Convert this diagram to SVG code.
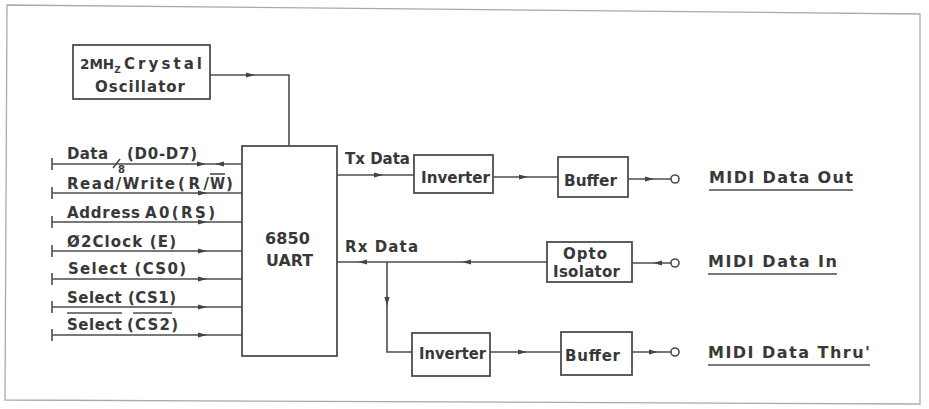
<svg xmlns="http://www.w3.org/2000/svg" xmlns:xlink="http://www.w3.org/1999/xlink" width="929" height="409" viewBox="0 0 929 409">
<style>
.ln{stroke:#4d4d4d;stroke-width:1.6;fill:none}
.bx{stroke:#4d4d4d;stroke-width:1.8;fill:#fff}
.t{font-family:"DejaVu Sans","Liberation Sans",Arial,sans-serif;font-weight:bold;fill:#383838;font-size:15px}
.tb{font-family:"DejaVu Sans","Liberation Sans",Arial,sans-serif;font-weight:bold;fill:#383838;font-size:16px}
.ah{fill:#444}
</style>
<defs>
<path id="ar" d="M-9,-2.6 L0,0 L-9,2.6 z"/>
</defs>
<rect width="929" height="409" fill="#fff"/>
<polygon points="7,5 920,14 920,404 5,400" fill="none" stroke="#aaa" stroke-width="1.3"/>

<g id="connectors">
  <polyline class="ln" points="210,75 289,75 289,146"/>
  <use href="#ar" class="ah" transform="translate(255,75)"/>
  <g class="ln">
    <line x1="52" y1="164" x2="242" y2="164"/><line x1="52" y1="158" x2="52" y2="170"/>
    <line x1="52" y1="193" x2="242" y2="193"/><line x1="52" y1="187" x2="52" y2="199"/>
    <line x1="52" y1="222" x2="242" y2="222"/><line x1="52" y1="216" x2="52" y2="228"/>
    <line x1="52" y1="251" x2="242" y2="251"/><line x1="52" y1="245" x2="52" y2="257"/>
    <line x1="52" y1="279" x2="242" y2="279"/><line x1="52" y1="273" x2="52" y2="285"/>
    <line x1="52" y1="307" x2="242" y2="307"/><line x1="52" y1="301" x2="52" y2="313"/>
    <line x1="52" y1="335" x2="242" y2="335"/><line x1="52" y1="329" x2="52" y2="341"/>
    <line x1="113" y1="168" x2="120" y2="159"/>
  </g>
  <use href="#ar" class="ah" transform="translate(206,164)"/>
  <use href="#ar" class="ah" transform="translate(215,164) rotate(180)"/>
  <use href="#ar" class="ah" transform="translate(207,193)"/>
  <use href="#ar" class="ah" transform="translate(207,222)"/>
  <use href="#ar" class="ah" transform="translate(207,251)"/>
  <use href="#ar" class="ah" transform="translate(207,279)"/>
  <use href="#ar" class="ah" transform="translate(207,307)"/>
  <use href="#ar" class="ah" transform="translate(207,335)"/>
  <line class="ln" x1="337" y1="175" x2="414" y2="175"/>
  <use href="#ar" class="ah" transform="translate(383,175)"/>
  <line class="ln" x1="493" y1="177" x2="558" y2="177"/>
  <use href="#ar" class="ah" transform="translate(528,177)"/>
  <line class="ln" x1="628" y1="179" x2="671" y2="179"/>
  <use href="#ar" class="ah" transform="translate(654,179)"/>
  <line class="ln" x1="337" y1="262" x2="547" y2="262"/>
  <use href="#ar" class="ah" transform="translate(358,262) rotate(180)"/>
  <use href="#ar" class="ah" transform="translate(462,262) rotate(180)"/>
  <line class="ln" x1="632" y1="263" x2="671" y2="263"/>
  <use href="#ar" class="ah" transform="translate(653,263) rotate(180)"/>
  <polyline class="ln" points="387,262 387,352 412,352"/>
  <use href="#ar" class="ah" transform="translate(387,306) rotate(90)"/>
  <line class="ln" x1="490" y1="352" x2="561" y2="352"/>
  <use href="#ar" class="ah" transform="translate(527,352)"/>
  <line class="ln" x1="632" y1="352" x2="671" y2="352"/>
  <use href="#ar" class="ah" transform="translate(658,352)"/>
</g>

<g id="osc">
  <rect class="bx" x="73" y="45" width="137" height="54"/>
  <text class="t" x="80" y="69" style="font-size:13.5px">2MH<tspan dy="4" style="font-size:9px">Z</tspan></text>
  <text class="t" x="124" y="69" textLength="78" lengthAdjust="spacing">Crystal</text>
  <text class="t" x="95" y="92" textLength="90" lengthAdjust="spacing">Oscillator</text>
</g>

<g id="uart">
  <rect class="bx" x="242" y="146" width="95" height="210"/>
  <text class="tb" x="265" y="244" textLength="45" lengthAdjust="spacing">6850</text>
  <text class="tb" x="266" y="266" textLength="47" lengthAdjust="spacingAndGlyphs">UART</text>
</g>

<g id="signals">
  <text class="t" x="67" y="159" textLength="41" lengthAdjust="spacing">Data</text>
  <text class="t" x="127" y="159" textLength="70" lengthAdjust="spacing">(D0-D7)</text>
  <text class="t" x="118" y="173" style="font-size:10px">8</text>
  <text class="t" x="67" y="189" textLength="108" lengthAdjust="spacing">Read/Write</text>
  <text class="t" x="178" y="189" textLength="31" lengthAdjust="spacing">(R/</text>
  <text class="t" x="210" y="189" textLength="15" lengthAdjust="spacingAndGlyphs">W</text>
  <line class="ln" x1="210" y1="174" x2="225" y2="174"/>
  <text class="t" x="226" y="189">)</text>
  <text class="t" x="67" y="218" textLength="73" lengthAdjust="spacing">Address</text>
  <text class="t" x="145" y="218" textLength="70" lengthAdjust="spacing">A0(RS)</text>
  <text class="t" x="67" y="247" textLength="109" lengthAdjust="spacing">Ø2Clock (E)</text>
  <text class="t" x="68" y="274" textLength="118" lengthAdjust="spacing">Select  (CS0)</text>
  <text class="t" x="67" y="303" textLength="109" lengthAdjust="spacing">Select (CS1)</text>
  <text class="t" x="67" y="330" textLength="55" lengthAdjust="spacing">Select</text>
  <text class="t" x="127" y="330" textLength="51" lengthAdjust="spacing">(CS2)</text>
  <line class="ln" x1="67" y1="313" x2="122" y2="313"/>
  <line class="ln" x1="133" y1="313" x2="172" y2="313"/>
</g>

<g id="txlabel"><text class="t" x="345" y="164" textLength="65" lengthAdjust="spacingAndGlyphs">Tx Data</text></g>
<g id="rxlabel"><text class="t" x="345" y="252" textLength="73" lengthAdjust="spacing">Rx Data</text></g>

<g id="inv1">
  <rect class="bx" x="414" y="155" width="79" height="38"/>
  <text class="t" x="421" y="183" textLength="69" lengthAdjust="spacingAndGlyphs">Inverter</text>
</g>
<g id="buf1">
  <rect class="bx" x="558" y="157" width="70" height="40"/>
  <text class="t" x="564" y="186" textLength="53" lengthAdjust="spacingAndGlyphs">Buffer</text>
</g>
<g id="opto">
  <rect class="bx" x="547" y="242" width="85" height="40"/>
  <text class="t" x="563" y="259" textLength="44" lengthAdjust="spacing">Opto</text>
  <text class="t" x="553" y="277" textLength="67" lengthAdjust="spacing">Isolator</text>
</g>
<g id="inv2">
  <rect class="bx" x="412" y="333" width="78" height="43"/>
  <text class="t" x="419" y="359" textLength="67" lengthAdjust="spacingAndGlyphs">Inverter</text>
</g>
<g id="buf2">
  <rect class="bx" x="561" y="332" width="71" height="43"/>
  <text class="t" x="565" y="361" textLength="55" lengthAdjust="spacing">Buffer</text>
</g>

<g id="out">
  <circle class="ln" cx="675" cy="179" r="4"/>
  <text class="tb" x="709" y="183" textLength="144" lengthAdjust="spacing">MIDI Data Out</text>
  <line class="ln" x1="709" y1="190" x2="853" y2="190" stroke-width="2"/>
</g>
<g id="in">
  <circle class="ln" cx="675" cy="263" r="4"/>
  <text class="tb" x="708" y="267" textLength="129" lengthAdjust="spacing">MIDI Data In</text>
  <line class="ln" x1="708" y1="274" x2="837" y2="274" stroke-width="2"/>
</g>
<g id="thru">
  <circle class="ln" cx="675" cy="352" r="4"/>
  <text class="tb" x="708" y="358" textLength="162" lengthAdjust="spacing">MIDI Data Thru'</text>
  <line class="ln" x1="708" y1="365" x2="870" y2="365" stroke-width="2"/>
</g>
</svg>
